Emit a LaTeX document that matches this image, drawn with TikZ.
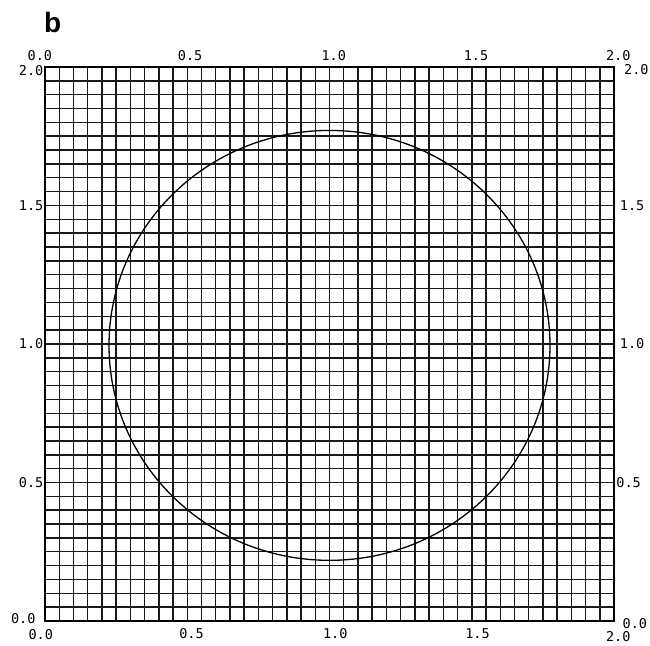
\documentclass[tikz,border=0pt]{standalone}
\usepackage{fontspec}
\newfontfamily\plotfont{DejaVu Sans Mono}
\newfontfamily\panelfont{Liberation Sans}
\tikzset{
  gridline/.style={draw=black!90, line width=1.45pt},
  frameline/.style={draw=black, line width=1.6pt},
  curveline/.style={draw=black, line width=1.3pt},
  ticklabel/.style={font=\plotfont\fontsize{13.5}{13.5}\selectfont, inner sep=0pt, text=black},
  panellabel/.style={font=\panelfont\bfseries\fontsize{28}{28}\selectfont, inner sep=0pt, anchor=base west}
}
\begin{document}
\begin{tikzpicture}[x=1pt,y=1pt]
\useasboundingbox[fill=white] (0,0) rectangle (650,645);
% panel letter
\node[panellabel] (panel) at (44,612) {b};
% plot area in data coordinates
\begin{scope}[shift={(45pt,24pt)}, x=284.5pt, y=277pt]
  \foreach \i in {0,...,40} {
    \draw[gridline] (\i*0.05,0) -- (\i*0.05,2);
    \draw[gridline] (0,\i*0.05) -- (2,\i*0.05);
  }
  \draw[frameline] (0,0) rectangle (2,2);
  \coordinate (ctr) at (1.0,0.995);
  \draw[curveline] (ctr) circle [x radius=0.775, y radius=0.776];
  % top axis labels
  \node[ticklabel] (t0) at (-0.018,2.042) {0.0};
  \node[ticklabel] (t1) at (0.51,2.042) {0.5};
  \node[ticklabel] (t2) at (1.015,2.042) {1.0};
  \node[ticklabel] (t3) at (1.515,2.042) {1.5};
  \node[ticklabel] (t4) at (2.015,2.042) {2.0};
  % bottom axis labels
  \node[ticklabel] (b0) at (-0.015,-0.048) {0.0};
  \node[ticklabel] (b1) at (0.515,-0.045) {0.5};
  \node[ticklabel] (b2) at (1.02,-0.045) {1.0};
  \node[ticklabel] (b3) at (1.52,-0.045) {1.5};
  \node[ticklabel] (b4) at (2.015,-0.056) {2.0};
  % left axis labels
  \node[ticklabel, anchor=east] (l4) at (-0.005,1.988) {2.0};
  \node[ticklabel, anchor=east] (l3) at (-0.005,1.5) {1.5};
  \node[ticklabel, anchor=east] (l2) at (-0.005,1.0) {1.0};
  \node[ticklabel, anchor=east] (l1) at (-0.005,0.5) {0.5};
  \node[ticklabel, anchor=east] (l0) at (-0.033,0.008) {0.0};
  % right axis labels
  \node[ticklabel, anchor=west] (r4) at (2.035,1.99) {2.0};
  \node[ticklabel, anchor=west] (r3) at (2.02,1.5) {1.5};
  \node[ticklabel, anchor=west] (r2) at (2.02,1.0) {1.0};
  \node[ticklabel, anchor=west] (r1) at (2.008,0.5) {0.5};
  \node[ticklabel, anchor=west] (r0) at (2.03,-0.008) {0.0};
\end{scope}
\end{tikzpicture}
\end{document}
